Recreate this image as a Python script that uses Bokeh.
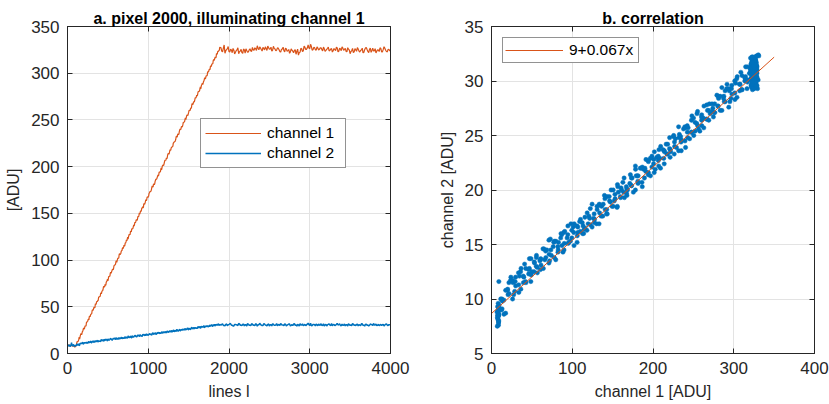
from bokeh.plotting import figure
from bokeh.layouts import row
from bokeh.models import (FixedTicker, LinearAxis, Range1d, Legend, LegendItem,
                          CustomJSTickFormatter)
from bokeh.embed import file_html
from bokeh.resources import INLINE

# ---------------- data ----------------
# two interleaved samplings of the recorded lines
lines_a = list(range(0, 1890, 10)) + list(range(1900, 4001, 20))
lines_b = list(range(5, 1890, 10)) + list(range(1910, 4000, 20))

ch1_a = [
    8.9, 8.2, 9.4, 8.6, 7.9, 9.1, 8.4, 7.6, 8.8, 6.8,
    8.6, 8.9, 12.9, 13.0, 15.3, 15.4, 19.6, 21.6, 21.7, 24.0,
    27.5, 26.6, 29.8, 29.9, 33.8, 34.6, 36.6, 39.5, 39.3, 42.4,
    42.6, 46.9, 47.0, 49.8, 49.2, 52.9, 55.4, 55.7, 56.8, 60.7,
    61.0, 64.2, 63.8, 67.3, 68.5, 72.0, 71.4, 72.9, 76.4, 77.7,
    77.8, 82.2, 82.6, 86.1, 85.7, 88.5, 90.1, 90.7, 94.5, 95.0,
    98.4, 97.6, 101.1, 101.9, 106.0, 105.9, 107.0, 110.2, 112.7, 112.4,
    116.0, 115.7, 118.2, 121.5, 122.5, 122.4, 126.5, 127.3, 130.8, 130.1,
    133.5, 133.9, 137.7, 138.3, 139.9, 142.7, 142.4, 145.8, 146.2, 150.6,
    150.7, 152.0, 155.5, 157.1, 156.4, 159.9, 161.1, 164.6, 164.2, 167.5,
    167.2, 171.3, 173.3, 173.4, 175.7, 179.2, 178.4, 181.5, 181.6, 185.5,
    186.3, 188.3, 191.3, 191.1, 194.1, 194.3, 198.6, 198.7, 201.5, 201.0,
    204.7, 207.1, 207.4, 208.5, 212.4, 213.9, 214.2, 218.1, 218.2, 220.6,
    221.3, 225.2, 226.3, 226.6, 229.0, 232.7, 232.2, 235.0, 235.1, 239.4,
    239.6, 242.6, 242.4, 245.4, 247.4, 248.2, 252.1, 252.1, 255.3, 254.5,
    258.0, 260.3, 260.4, 262.4, 266.5, 266.6, 269.0, 269.1, 273.1, 273.4,
    276.4, 276.6, 280.6, 280.7, 283.1, 283.2, 287.4, 289.3, 289.4, 291.7,
    295.2, 294.4, 297.6, 297.7, 301.5, 302.3, 304.3, 307.3, 307.1, 310.2,
    310.4, 314.6, 314.7, 317.5, 317.0, 320.7, 323.2, 323.4, 324.5,
    327.5, 322.8, 330.2, 324.1, 326.3, 323.0, 325.8, 321.9, 324.6, 322.4,
    325.1, 320.8, 323.7, 322.1, 325.9, 321.6, 324.3, 322.7, 326.1, 323.4,
    325.0, 327.2, 324.4, 326.8, 328.1, 325.3, 327.6, 324.9, 326.4, 329.0,
    325.7, 327.9, 324.8, 326.6, 323.9, 327.1, 325.2, 322.6, 326.0, 324.1,
    326.9, 323.5, 325.4, 322.8, 324.7, 321.9, 325.3, 323.2, 319.4, 322.5,
    326.2, 324.0, 327.8, 325.6, 330.4, 326.3, 328.7, 325.1, 327.4, 324.6,
    326.9, 325.5, 327.2, 323.8, 326.1, 324.4, 326.7, 323.9, 325.8, 322.7,
    326.4, 324.2, 327.0, 323.6, 325.9, 328.3, 324.5, 326.6, 322.9, 325.7,
    320.9, 324.3, 322.1, 326.2, 323.4, 325.8, 322.6, 324.9, 321.8, 325.2,
    327.6, 323.3, 325.6, 322.4, 326.8, 324.0, 321.7, 325.1, 323.2, 326.5,
    322.8, 328.4, 324.6, 322.9, 325.7, 323.8]

ch1_b = [
    8.4, 9.0, 7.8, 8.7, 9.3, 8.1, 8.9, 8.3, 7.4, 7.2,
    7.7, 11.4, 12.6, 13.5, 17.5, 17.5, 20.5, 20.0, 23.6, 26.1,
    26.2, 28.7, 29.3, 33.4, 33.7, 36.3, 36.0, 40.0, 41.0, 42.1,
    45.8, 46.0, 48.7, 48.9, 53.3, 52.6, 55.6, 56.6, 59.9, 60.6,
    61.3, 64.9, 66.1, 67.0, 71.1, 71.1, 74.1, 73.5, 77.1, 79.6,
    79.7, 82.3, 82.9, 87.0, 87.2, 89.8, 89.5, 93.6, 94.6, 95.7,
    99.4, 99.5, 102.2, 102.4, 106.9, 106.2, 109.2, 110.1, 113.4, 114.1,
    114.8, 118.5, 119.7, 120.6, 124.6, 124.6, 127.6, 127.1, 130.7, 133.2,
    133.3, 135.8, 136.4, 140.5, 140.8, 143.4, 143.1, 147.1, 148.1, 149.2,
    152.9, 153.1, 155.8, 156.0, 160.4, 159.7, 162.7, 163.7, 167.0, 167.7,
    168.4, 172.0, 173.2, 174.1, 178.2, 178.2, 181.2, 180.6, 184.2, 186.7,
    186.8, 189.4, 190.0, 194.1, 194.3, 196.9, 196.6, 200.7, 201.7, 202.8,
    206.5, 206.6, 209.3, 209.5, 214.0, 213.3, 216.3, 217.2, 220.5, 221.2,
    221.9, 225.6, 226.8, 227.7, 231.7, 231.7, 234.7, 234.2, 237.8, 240.3,
    240.4, 242.9, 243.5, 247.6, 247.9, 250.5, 250.2, 254.2, 255.2, 256.3,
    260.0, 260.2, 262.9, 263.1, 267.5, 266.8, 269.8, 270.8, 274.1, 274.8,
    275.5, 279.1, 280.3, 281.2, 285.3, 285.3, 288.3, 287.7, 291.3, 293.8,
    293.9, 296.5, 297.1, 301.2, 301.4, 304.0, 303.7, 307.8, 308.8, 309.9,
    313.6, 313.7, 316.4, 316.6, 321.1, 320.4, 323.4, 324.3, 327.6,
    323.6, 326.9, 321.4, 325.3, 328.6, 322.9, 324.8, 326.5, 320.6, 324.2,
    327.3, 323.1, 325.6, 321.3, 324.9, 326.2, 322.5, 325.0, 323.8, 327.7,
    324.6, 326.3, 329.4, 325.1, 327.0, 323.7, 326.5, 328.2, 324.3, 327.4,
    326.0, 323.5, 328.8, 325.9, 324.7, 326.8, 323.1, 325.5, 327.9, 322.8,
    325.9, 324.2, 321.3, 326.0, 323.6, 324.4, 320.3, 325.8, 322.1, 326.7,
    323.1, 328.9, 325.4, 327.1, 326.9, 331.0, 324.6, 327.6, 325.2, 328.3,
    324.8, 327.1, 325.3, 328.0, 323.4, 325.6, 327.9, 324.5, 326.4, 324.0,
    325.5, 327.8, 322.9, 326.7, 324.1, 326.9, 325.6, 323.3, 327.3, 324.6,
    323.2, 326.6, 322.9, 325.1, 327.4, 323.7, 324.5, 326.8, 322.3, 327.0,
    325.3, 322.1, 326.9, 324.4, 323.8, 326.2, 323.5, 324.7, 327.2, 322.8,
    325.5, 326.6, 323.2, 325.3, 324.1]

ch2_a = [
    8.7, 8.1, 9.0, 7.6, 8.9, 11.6, 8.6, 9.3, 7.9, 8.8,
    9.2, 8.5, 10.0, 9.1, 9.9, 8.6, 10.8, 11.5, 10.5, 12.0,
    10.4, 11.5, 12.0, 11.2, 10.6, 12.1, 12.8, 11.5, 12.1, 12.8,
    11.5, 12.8, 13.7, 12.5, 12.2, 13.4, 13.0, 14.0, 12.4, 13.6,
    13.7, 12.8, 14.6, 13.8, 14.5, 13.5, 14.1, 15.5, 14.8, 13.8,
    15.3, 14.8, 14.5, 16.0, 15.6, 14.3, 15.1, 16.2, 15.9, 15.1,
    16.9, 15.3, 16.6, 16.1, 15.2, 16.7, 16.1, 17.3, 16.0, 17.0,
    16.5, 17.5, 16.3, 17.4, 16.8, 18.3, 17.4, 17.0, 18.2, 16.9,
    18.7, 17.9, 17.6, 18.7, 19.5, 18.2, 17.8, 19.4, 19.0, 18.5,
    20.0, 19.0, 18.4, 19.8, 20.3, 19.3, 20.0, 19.3, 21.1, 20.1,
    19.7, 20.6, 21.1, 20.4, 19.8, 21.3, 21.9, 20.6, 21.3, 22.0,
    20.7, 21.9, 22.8, 21.7, 21.4, 22.6, 22.1, 23.1, 21.6, 22.8,
    23.0, 22.2, 23.7, 22.9, 23.7, 22.4, 23.5, 24.2, 23.3, 24.8,
    23.7, 24.9, 23.3, 24.4, 23.9, 25.1, 24.8, 23.6, 24.6, 25.8,
    24.5, 25.3, 25.9, 24.7, 25.3, 26.8, 26.2, 25.4, 25.9, 27.0,
    25.4, 26.9, 25.9, 26.6, 27.8, 26.5, 27.3, 26.4, 27.9, 27.2,
    27.9, 27.1, 28.6, 27.7, 28.6, 27.3, 28.4, 29.1, 28.1, 29.7,
    28.1, 29.1, 29.6, 28.8, 28.3, 29.8, 30.4, 29.1, 29.7, 30.5,
    29.2, 30.4, 31.3, 30.1, 29.9, 31.1, 30.6, 31.6, 30.0,
    30.4, 31.6, 30.1, 31.2, 29.8, 30.9, 31.8, 30.3, 29.5, 31.0,
    30.6, 32.1, 30.2, 29.7, 31.4, 30.8, 29.3, 31.1, 30.5, 31.9,
    30.0, 29.6, 31.3, 30.7, 32.3, 30.4, 29.9, 31.5, 30.2, 31.0,
    29.4, 30.8, 31.7, 30.1, 30.6, 29.8, 31.2, 32.0, 30.5, 29.7,
    31.1, 30.3, 31.6, 29.5, 30.9, 31.4, 30.0, 29.2, 30.7, 31.8,
    30.4, 29.9, 31.3, 30.6, 32.4, 30.1, 29.6, 31.0, 30.8, 31.5,
    29.8, 30.5, 31.9, 30.2, 29.4, 31.2, 30.7, 31.6, 30.0, 29.7,
    31.1, 30.4, 32.2, 30.9, 29.9, 31.4, 30.3, 29.5, 30.8, 31.7,
    30.1, 29.8, 31.3, 30.6, 31.0, 29.6, 30.5, 31.8, 30.2, 29.3,
    31.5, 30.7, 30.0, 31.2, 29.9, 30.4, 31.6, 30.1, 29.7, 31.1,
    30.8, 29.5, 31.4, 30.3, 30.9, 30.6]

ch2_b = [
    8.4, 9.1, 8.2, 7.8, 9.4, 8.5, 8.0, 9.6, 8.3, 7.5,
    8.5, 10.0, 9.0, 9.8, 8.7, 10.8, 10.4, 10.9, 11.7, 10.0,
    11.7, 10.7, 11.6, 12.4, 11.3, 10.9, 12.5, 12.0, 13.2, 11.6,
    12.7, 12.3, 11.6, 13.7, 13.3, 12.5, 13.8, 12.9, 13.5, 12.7,
    13.1, 14.6, 13.6, 14.4, 13.3, 15.4, 14.0, 14.5, 15.2, 13.6,
    15.3, 14.3, 15.2, 15.9, 14.9, 14.5, 16.1, 15.6, 16.7, 15.2,
    16.3, 15.6, 14.9, 16.9, 16.6, 15.8, 17.1, 16.2, 16.7, 16.0,
    16.4, 17.9, 16.9, 17.6, 16.6, 18.7, 17.3, 17.8, 18.5, 16.9,
    18.6, 17.6, 18.5, 19.2, 18.2, 17.8, 19.4, 18.9, 20.0, 18.5,
    19.6, 19.2, 18.5, 20.5, 20.2, 19.4, 20.7, 19.8, 20.3, 19.5,
    20.0, 21.4, 20.4, 21.1, 20.0, 22.2, 20.8, 21.3, 22.0, 20.3,
    22.1, 21.1, 22.0, 22.7, 21.6, 21.3, 22.9, 22.4, 23.5, 21.9,
    23.1, 22.7, 22.0, 24.0, 23.6, 22.9, 24.2, 23.3, 23.8, 23.0,
    23.5, 25.0, 24.0, 24.7, 23.6, 25.8, 24.4, 24.9, 25.6, 23.9,
    25.7, 24.8, 25.7, 26.4, 25.3, 25.0, 26.6, 26.1, 27.2, 25.6,
    26.7, 26.4, 25.7, 27.7, 27.3, 26.5, 27.9, 27.0, 27.5, 26.7,
    27.1, 28.7, 27.7, 28.4, 27.3, 29.4, 28.1, 28.6, 29.3, 27.6,
    29.3, 28.4, 29.3, 30.0, 28.9, 28.5, 30.2, 29.7, 30.8, 29.2,
    30.3, 30.0, 29.3, 31.3, 30.9, 30.1, 31.5, 30.6, 31.1,
    31.2, 30.1, 29.6, 31.5, 30.7, 32.0, 30.3, 29.4, 31.1, 30.8,
    29.9, 31.7, 30.5, 31.3, 29.5, 30.9, 32.2, 30.2, 29.8, 31.4,
    30.6, 31.9, 29.3, 30.7, 31.2, 30.0, 31.8, 30.4, 29.7, 31.6,
    30.9, 29.5, 31.3, 30.2, 32.1, 30.6, 29.9, 31.0, 30.5, 31.7,
    29.6, 30.8, 31.5, 30.1, 29.8, 32.0, 30.7, 31.2, 29.4, 30.6,
    31.8, 30.3, 29.7, 31.4, 30.9, 32.3, 30.0, 31.1, 29.6, 30.8,
    31.5, 30.2, 29.9, 31.7, 30.6, 29.5, 31.3, 30.4, 32.0, 30.9,
    29.8, 31.2, 30.5, 31.9, 29.7, 30.3, 31.6, 30.8, 29.4, 31.0,
    30.6, 32.1, 30.1, 29.9, 31.4, 30.7, 29.6, 31.8, 30.3, 31.1,
    30.0, 29.5, 31.5, 30.8, 32.2, 30.4, 29.8, 31.3, 30.6, 29.9,
    31.2, 30.5, 31.7, 30.0, 30.8]

fit_intercept = 8.67
fit_slope = 0.0672
fit_span = [0, 350]
fit_label = "9+0.067x"

left_xticks = [0, 1000, 2000, 3000, 4000]
left_yticks = [0, 50, 100, 150, 200, 250, 300, 350]
right_xticks = [0, 100, 200, 300, 400]
right_yticks = [5, 10, 15, 20, 25, 30, 35]

# merge the two samplings in line order
merged = sorted(zip(lines_a + lines_b, ch1_a + ch1_b, ch2_a + ch2_b))
lines = [m[0] for m in merged]
ch1 = [m[1] for m in merged]
ch2 = [m[2] for m in merged]

# ---------------- styling ----------------
FONT = "Liberation Sans"
TXT = "#262626"
BLUE = "#0072BD"
ORANGE = "#D95319"
GRID = "#e3e3e3"


def style_axis(ax, ticks, blank=False):
    ax.ticker = FixedTicker(ticks=ticks)
    ax.axis_line_color = TXT
    ax.axis_line_width = 1
    ax.major_tick_line_color = TXT
    ax.major_tick_in = 5
    ax.major_tick_out = 0
    ax.minor_tick_line_color = None
    ax.major_label_text_font = FONT
    ax.major_label_text_font_size = "17px"
    ax.major_label_text_color = TXT
    ax.major_label_standoff = 8
    ax.axis_label_text_font = FONT
    ax.axis_label_text_font_size = "16px"
    ax.axis_label_text_font_style = "normal"
    ax.axis_label_text_color = TXT
    ax.axis_label_standoff = 6
    if blank:
        ax.formatter = CustomJSTickFormatter(code="return ''")
        ax.major_label_standoff = 0
        ax.major_label_text_font_size = "1px"
        ax.axis_label_standoff = 0


def make_fig(title, xr, yr, xt, yt, width, left, right, xlabel, ylabel):
    p = figure(width=width, height=404, x_range=xr, y_range=yr,
               output_backend="svg", toolbar_location=None,
               min_border_left=left, min_border_right=right,
               min_border_top=26, min_border_bottom=51)
    p.background_fill_color = "white"
    p.border_fill_color = "white"
    p.outline_line_color = TXT
    p.outline_line_width = 1
    p.outline_line_alpha = 1
    p.title.text = title
    p.title.align = "center"
    p.title.text_font = FONT
    p.title.text_font_size = "16px"
    p.title.text_font_style = "bold"
    p.title.text_color = "#000000"
    p.title.standoff = 0
    xb = p.below[0]
    yl = p.left[0]
    style_axis(xb, xt)
    style_axis(yl, yt)
    xb.axis_label = xlabel
    yl.axis_label = ylabel
    top = LinearAxis()
    style_axis(top, xt, blank=True)
    p.add_layout(top, "above")
    rgt = LinearAxis()
    style_axis(rgt, yt, blank=True)
    p.add_layout(rgt, "right")
    p.xgrid.ticker = FixedTicker(ticks=xt)
    p.ygrid.ticker = FixedTicker(ticks=yt)
    p.grid.grid_line_color = GRID
    p.grid.grid_line_width = 1
    return p


def style_legend(lg, pad, glyph_w, label_w):
    lg.border_line_color = TXT
    lg.border_line_width = 1
    lg.background_fill_color = "white"
    lg.background_fill_alpha = 1
    lg.label_text_font = FONT
    lg.label_text_font_size = "15.5px"
    lg.label_text_color = "#000000"
    lg.glyph_width = glyph_w
    lg.label_width = label_w
    lg.label_standoff = 6
    lg.padding = pad
    lg.spacing = 0
    lg.margin = 0
    lg.label_height = 20
    lg.glyph_height = 20


# ---------------- left panel ----------------
p1 = make_fig("a. pixel 2000, illuminating channel 1", Range1d(0, 4000), Range1d(0, 350),
              left_xticks, left_yticks, 420, 67, 30, "lines l", "[ADU]")
r1 = p1.line(lines, ch1, line_color=ORANGE, line_width=1.2)
r2 = p1.line(lines, ch2, line_color=BLUE, line_width=1.5)
lg1 = Legend(items=[LegendItem(label="channel 1", renderers=[r1]),
                    LegendItem(label="channel 2", renderers=[r2])],
             location=(133, 185))
style_legend(lg1, 4, 56, 74)
p1.add_layout(lg1)

# ---------------- right panel ----------------
p2 = make_fig("b. correlation", Range1d(0, 400), Range1d(5, 35),
              right_xticks, right_yticks, 409, 71, 15, "channel 1 [ADU]", "channel 2 [ADU]")
p2.scatter(ch1, ch2, size=4.3, fill_color=BLUE, line_color=BLUE, line_width=0.5)
fit_y = [fit_intercept + fit_slope * x for x in fit_span]
rf = p2.line(fit_span, fit_y, line_color=ORANGE, line_width=1)
lg2 = Legend(items=[LegendItem(label=fit_label, renderers=[rf])], location=(11, 290))
style_legend(lg2, 2, 58, 67)
p2.add_layout(lg2)

layout = row(p1, p2)
open("out.html", "w").write(file_html(layout, INLINE))
